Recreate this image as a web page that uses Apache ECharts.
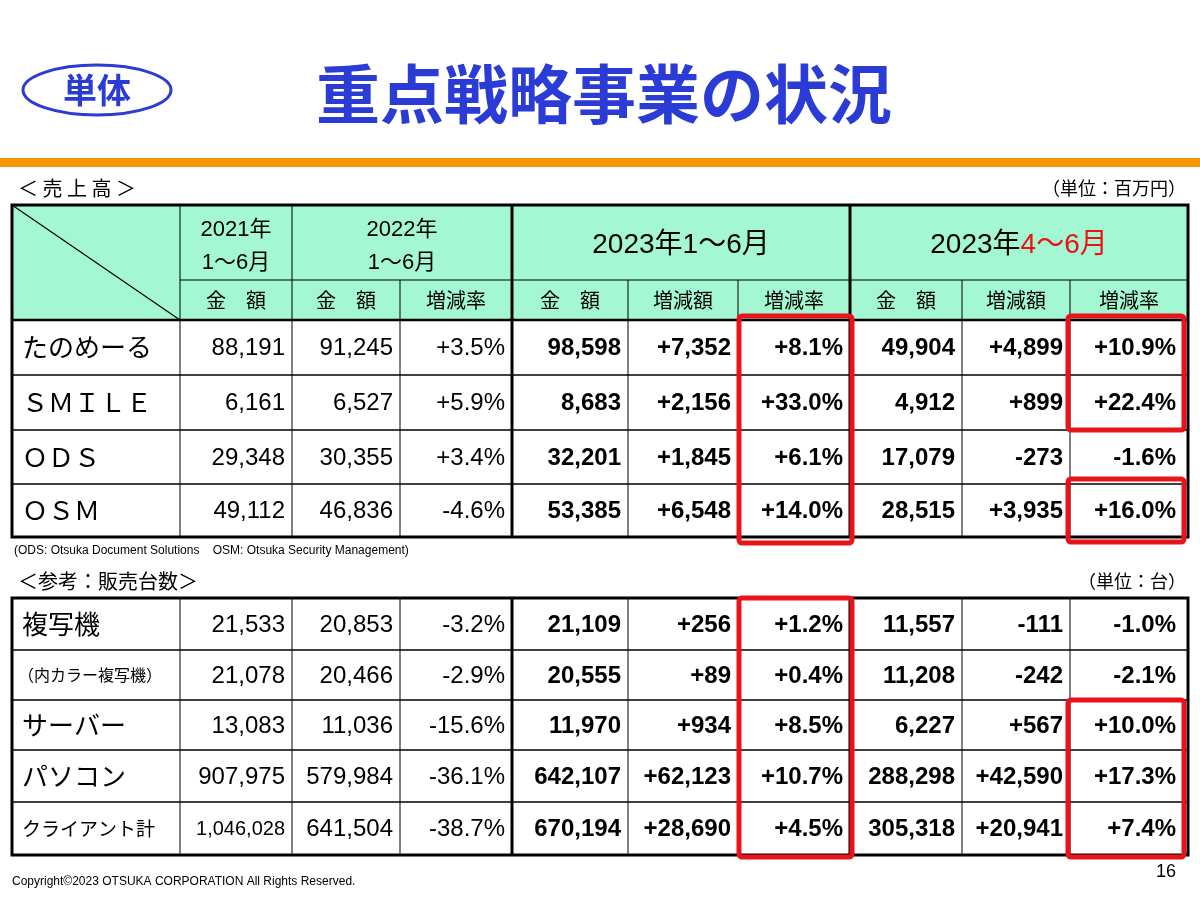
<!DOCTYPE html>
<html><head><meta charset="utf-8">
<script src="https://cdn.jsdelivr.net/npm/echarts@6/dist/echarts.min.js"></script>
<style>html,body{margin:0;padding:0;background:#fff}#c{width:1200px;height:900px}</style>
</head><body><div id="c"></div>
<script>
const FONT = '"Liberation Sans","Noto Sans CJK JP",sans-serif';
const JFONT = '"Noto Sans CJK JP",sans-serif';
const salesRows = ['たのめーる','ＳＭＩＬＥ','ＯＤＳ','ＯＳＭ'];
const sales2021 = ['88,191','6,161','29,348','49,112'];
const sales2022 = ['91,245','6,527','30,355','46,836'];
const sales2022r = ['+3.5%','+5.9%','+3.4%','-4.6%'];
const sales23H = ['98,598','8,683','32,201','53,385'];
const sales23Hd = ['+7,352','+2,156','+1,845','+6,548'];
const sales23Hr = ['+8.1%','+33.0%','+6.1%','+14.0%'];
const sales23Q = ['49,904','4,912','17,079','28,515'];
const sales23Qd = ['+4,899','+899','-273','+3,935'];
const sales23Qr = ['+10.9%','+22.4%','-1.6%','+16.0%'];
const unitRows = ['複写機','（内カラー複写機）','サーバー','パソコン','クライアント計'];
const unit2021 = ['21,533','21,078','13,083','907,975','1,046,028'];
const unit2022 = ['20,853','20,466','11,036','579,984','641,504'];
const unit2022r = ['-3.2%','-2.9%','-15.6%','-36.1%','-38.7%'];
const unit23H = ['21,109','20,555','11,970','642,107','670,194'];
const unit23Hd = ['+256','+89','+934','+62,123','+28,690'];
const unit23Hr = ['+1.2%','+0.4%','+8.5%','+10.7%','+4.5%'];
const unit23Q = ['11,557','11,208','6,227','288,298','305,318'];
const unit23Qd = ['-111','-242','+567','+42,590','+20,941'];
const unit23Qr = ['-1.0%','-2.1%','+10.0%','+17.3%','+7.4%'];
const subHeaders = ['金　額','金　額','増減率','金　額','増減額','増減率','金　額','増減額','増減率'];

const colX = [12,180,292,400,512,628,738,850,962,1070,1188];
const g = [];
function txt(x,y,s,o){g.push({type:'text',x,y,style:Object.assign({text:s,font:(o&&o.font)||('24px '+FONT),fill:(o&&o.fill)||'#000',align:(o&&o.align)||'left',verticalAlign:'middle'},o&&o.rich?{rich:o.rich}:{} ), z:5});}
function line(x1,y1,x2,y2,w,c){g.push({type:'line',shape:{x1,y1,x2,y2},style:{stroke:c||'#000',lineWidth:w||1},z:4});}
function rect(x,y,w,h,fill){g.push({type:'rect',shape:{x,y,width:w,height:h},style:{fill},z:1});}

g.push({type:'ellipse',shape:{cx:97,cy:90,rx:74,ry:25},style:{fill:'none',stroke:'#2a3bd6',lineWidth:3},z:3});
txt(97,90,'単体',{font:'bold 34px '+JFONT,fill:'#2a3bd6',align:'center'});
txt(604,94,'重点戦略事業の状況',{font:'bold 64px '+JFONT,fill:'#2a3bd6',align:'center'});
rect(0,158,1200,9,'#f39800');

function table(top,rowYs,labels,cols,unitText,title,isSales){
  txt(18,top-17,title,{font:'20px '+JFONT});
  txt(1186,top-17,unitText,{font:'18px '+JFONT,align:'right'});
  const bodyTop = rowYs[0], bottom=rowYs[rowYs.length-1];
  if(isSales){
    rect(12,top,1176,bodyTop-top,'#a3f7d3');
    line(12,top,180,bodyTop,1.2);
    line(180,280,1188,280,1);
    txt(236,230,'2021年',{align:'center',font:'22px '+FONT});
    txt(236,263,'1～6月',{align:'center',font:'22px '+FONT});
    txt(402,230,'2022年',{align:'center',font:'22px '+FONT});
    txt(402,263,'1～6月',{align:'center',font:'22px '+FONT});
    txt(681,245,'2023年1～6月',{align:'center',font:'28px '+FONT});
    txt(1019,245,'{a|2023年}{b|4～6月}',{align:'center',font:'28px '+FONT,rich:{a:{font:'28px '+FONT,fill:'#000'},b:{font:'28px '+FONT,fill:'#ee1111'}}});
    subHeaders.forEach((s,i)=>txt((colX[i+1]+colX[i+2])/2,300,s,{align:'center',font:'20px '+JFONT}));
    for(let i=1;i<colX.length-1;i++){
      if(i===1||i===2||i===4||i===7) line(colX[i],top,colX[i],bodyTop,(i===4||i===7)?3:1);
      else line(colX[i],280,colX[i],bodyTop,1);
    }
  }
  for(let i=1;i<colX.length-1;i++) line(colX[i],bodyTop,colX[i],bottom,(i===4||i===7)?3:1);
  for(let r=0;r<rowYs.length;r++) line(12,rowYs[r],1188,rowYs[r],r===0&&isSales?2.5:1.5);
  g.push({type:'rect',shape:{x:12,y:top,width:1176,height:bottom-top},style:{fill:'none',stroke:'#000',lineWidth:3},z:4});
  labels.forEach((lab,r)=>{
    const cy=(rowYs[r]+rowYs[r+1])/2;
    let f='26px '+JFONT, x=22;
    if(lab==='（内カラー複写機）'){f='16px '+JFONT;x=18;}
    if(lab==='クライアント計'){f='19px '+JFONT;x=22;}
    txt(x,cy,lab,{font:f});
    cols.forEach((arr,c)=>{
      const bold=c>=3;
      const fs = (arr[r].length>=9)?20:24;
      const pad = c===8?12:7;
      txt(colX[c+2]-pad,cy+1,arr[r],{align:'right',font:(bold?'bold ':'')+fs+'px '+FONT});
    });
  });
}
table(205,[320,375,430,484,537],salesRows,[sales2021,sales2022,sales2022r,sales23H,sales23Hd,sales23Hr,sales23Q,sales23Qd,sales23Qr],'（単位：百万円）','＜ 売 上 高 ＞',true);
txt(14,551,'(ODS: Otsuka Document Solutions    OSM: Otsuka Security Management)',{font:'12px '+FONT});
table(598,[598,650,700,750,802,855],unitRows,[unit2021,unit2022,unit2022r,unit23H,unit23Hd,unit23Hr,unit23Q,unit23Qd,unit23Qr],'（単位：台）','＜参考：販売台数＞',false);

function redBox(x,y,w,h){g.push({type:'rect',shape:{x,y,width:w,height:h,r:3},style:{fill:'none',stroke:'#e8141a',lineWidth:5},z:6});}
redBox(739,316,113,227);
redBox(1068,316,116,114);
redBox(1068,479,116,63);
redBox(739,598,113,259);
redBox(1068,700,116,157);

txt(12,882,'Copyright©2023 OTSUKA CORPORATION All Rights Reserved.',{font:'12px '+FONT});
txt(1176,872,'16',{font:'18px '+FONT,align:'right'});

const chart = echarts.init(document.getElementById('c'));
chart.setOption({animation:false,graphic:{elements:g}});
</script></body></html>
